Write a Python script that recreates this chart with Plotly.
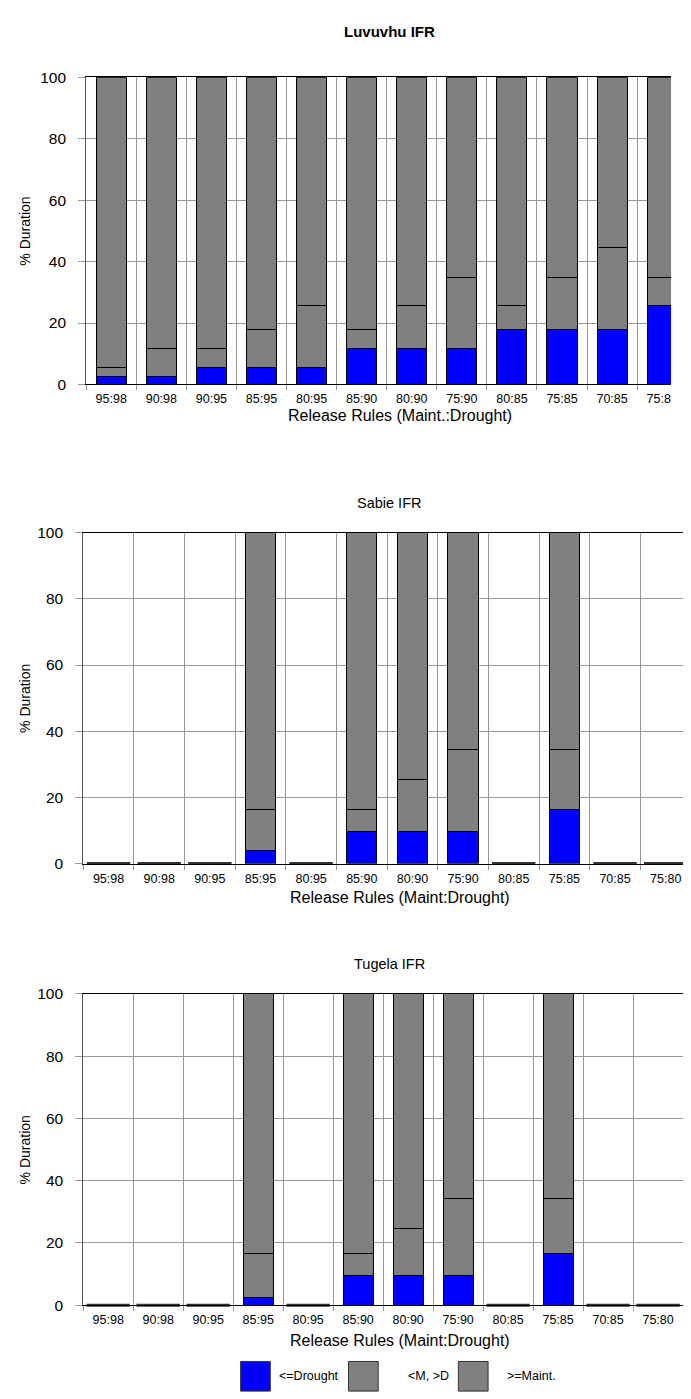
import plotly.graph_objects as go

W, H = 691, 1399

categories = ["95:98", "90:98", "90:95", "85:95", "80:95", "85:90",
              "80:90", "75:90", "80:85", "75:85", "70:85", "75:80"]
series_names = ["<=Drought", "<M, >D", ">=Maint."]
series_colors = ["#0000FF", "#808080", "#808080"]

luvuvhu_drought = [2.7, 2.7, 5.4, 5.4, 5.4, 11.6, 11.6, 11.6, 17.8, 17.8, 17.8, 25.7]
luvuvhu_between = [2.7, 8.9, 6.2, 12.4, 20.3, 6.2, 14.1, 23.1, 7.9, 16.9, 26.8, 9.0]
luvuvhu_maint = [94.6, 88.4, 88.4, 82.2, 74.3, 82.2, 74.3, 65.3, 74.3, 65.3, 55.4, 65.3]

sabie_drought = [0, 0, 0, 4.1, 0, 9.8, 9.8, 9.8, 0, 16.4, 0, 0]
sabie_between = [0, 0, 0, 12.3, 0, 6.6, 15.6, 24.6, 0, 18.0, 0, 0]
sabie_maint = [0, 0, 0, 83.6, 0, 83.6, 74.6, 65.6, 0, 65.6, 0, 0]

tugela_drought = [0, 0, 0, 2.4, 0, 9.4, 9.4, 9.4, 0, 16.6, 0, 0]
tugela_between = [0, 0, 0, 14.2, 0, 7.2, 15.2, 25.0, 0, 17.8, 0, 0]
tugela_maint = [0, 0, 0, 83.4, 0, 83.4, 75.4, 65.6, 0, 65.6, 0, 0]

y_ticks = [0, 20, 40, 60, 80, 100]
y_title = "% Duration"

panels = [
    dict(title="<b>Luvuvhu IFR</b>", data=[luvuvhu_drought, luvuvhu_between, luvuvhu_maint],
         xtitle="Release Rules (Maint.:Drought)",
         x0=79, x1=670, y0=61, y1=372, xend=11.18, title_y=15, xt_y=403),
    dict(title="Sabie IFR", data=[sabie_drought, sabie_between, sabie_maint],
         xtitle="Release Rules (Maint:Drought)",
         x0=76, x1=690, y0=522, y1=857, xend=11.5, title_y=492, xt_y=891),
    dict(title="Tugela IFR", data=[tugela_drought, tugela_between, tugela_maint],
         xtitle="Release Rules (Maint:Drought)",
         x0=76, x1=682, y0=989, y1=1304, xend=11.5, title_y=959, xt_y=1340),
]

FONT = "Liberation Sans, Arial, sans-serif"


def px_x(x):
    return x / W


def px_y(y):
    return 1 - y / H


fig = go.Figure()
layout = dict(
    width=W, height=H, margin=dict(l=0, r=0, t=0, b=0),
    paper_bgcolor="white", plot_bgcolor="white",
    barmode="stack", bargap=0.4, showlegend=False,
    font=dict(family=FONT, color="#000"),
)
annotations = []
shapes = []

for i, p in enumerate(panels):
    n = "" if i == 0 else str(i + 1)
    xa, ya = "x" + n, "y" + n
    for vals, name, col in zip(p["data"], series_names, series_colors):
        fig.add_trace(go.Bar(
            x=categories, y=vals, name=name, xaxis=xa, yaxis=ya,
            marker=dict(color=col, line=dict(color="#000", width=1)),
            hoverinfo="skip",
        ))
    totals = [sum(v) for v in zip(*p["data"])]
    zx = [c for c, t in zip(categories, totals) if t == 0]
    zy = [t for t in totals if t == 0]
    if zx:
        fig.add_trace(go.Scatter(
            x=zx, y=zy, mode="markers", xaxis=xa, yaxis=ya, cliponaxis=False,
            marker=dict(symbol="line-ew", size=31, line=dict(color="#333", width=3)),
            hoverinfo="skip",
        ))
    layout["xaxis" + n] = dict(
        domain=[px_x(p["x0"]), px_x(p["x1"])], anchor=ya,
        type="category", categoryorder="array", categoryarray=categories,
        range=[-0.5, p["xend"]], tickson="boundaries",
        showgrid=True, gridcolor="#999", gridwidth=1,
        ticks="outside", ticklen=5, tickcolor="#999", ticklabelstandoff=3,
        showline=True, linecolor="#000", linewidth=1, mirror=True,
        tickfont=dict(size=12.5, family=FONT), fixedrange=True,
    )
    layout["yaxis" + n] = dict(
        domain=[px_y(p["y1"]), px_y(p["y0"])], anchor=xa,
        range=[0, 100], tickvals=y_ticks,
        showgrid=True, gridcolor="#999", gridwidth=1, zeroline=False,
        ticks="outside", ticklen=7, tickcolor="#999", ticklabelstandoff=9,
        showline=True, linecolor="#555", linewidth=1,
        tickfont=dict(size=15.5, family=FONT), fixedrange=True,
    )
    annotations.append(dict(text=p["title"], x=px_x(385), y=px_y(p["title_y"]),
                            xref="paper", yref="paper", showarrow=False,
                            xanchor="center", yanchor="middle",
                            font=dict(size=15 if i == 0 else 14.5, family=FONT)))
    annotations.append(dict(text=p["xtitle"], x=px_x(396), y=px_y(p["xt_y"]),
                            xref="paper", yref="paper", showarrow=False,
                            xanchor="center", yanchor="middle",
                            font=dict(size=16, family=FONT)))
    annotations.append(dict(text=y_title, x=px_x(17), y=px_y((p["y0"] + p["y1"]) / 2),
                            xref="paper", yref="paper", showarrow=False, textangle=-90,
                            xanchor="center", yanchor="middle",
                            font=dict(size=14, family=FONT)))

# white mask clipping the top panel at its right edge
shapes.append(dict(type="rect", xref="paper", yref="paper", layer="above",
                   x0=px_x(670), x1=1.0, y0=px_y(400), y1=px_y(50),
                   fillcolor="white", line=dict(width=0)))

# legend drawn as boxes + labels
leg_y0, leg_y1 = 1361, 1391
leg_boxes = [(235, 265), (344, 374), (455, 485)]
leg_text_x = [272, 402, 502]
for (bx0, bx1), tx, name, col in zip(leg_boxes, leg_text_x, series_names, series_colors):
    shapes.append(dict(type="rect", xref="paper", yref="paper",
                       x0=px_x(bx0), x1=px_x(bx1), y0=px_y(leg_y1), y1=px_y(leg_y0),
                       fillcolor=col, line=dict(color="#333", width=1)))
    annotations.append(dict(text=name, x=px_x(tx), y=px_y((leg_y0 + leg_y1) / 2),
                            xref="paper", yref="paper", showarrow=False,
                            xanchor="left", yanchor="middle",
                            font=dict(size=12.5, family=FONT)))

layout["annotations"] = annotations
layout["shapes"] = shapes
fig.update_layout(**layout)
fig.write_html("out.html")
